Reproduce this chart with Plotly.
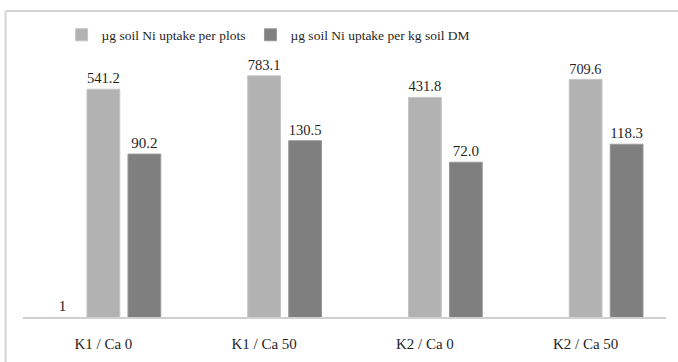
import plotly.graph_objects as go

categories = ["K1 / Ca 0", "K1 / Ca 50", "K2 / Ca 0", "K2 / Ca 50"]
series_aux = [1, None, None, None]
series_plots = [541.2, 783.1, 431.8, 709.6]
series_kg = [90.2, 130.5, 72.0, 118.3]
name_plots = "µg soil Ni uptake per plots"
name_kg = "µg soil Ni uptake per kg soil DM"

FONT = "Liberation Serif"
TXT = "#1f1f1f"

fig = go.Figure()
fig.add_trace(go.Bar(
    x=categories, y=series_aux, name="", showlegend=False,
    marker=dict(color="#c9c9c9"),
    text=["1", "", "", ""], textposition="outside",
    textfont=dict(family=FONT, size=15, color=TXT),
    cliponaxis=False,
))
fig.add_trace(go.Bar(
    x=categories, y=series_plots, name=name_plots,
    marker=dict(color="#b2b2b2", line=dict(color="#c4c4c4", width=1)),
    texttemplate="%{y:.1f}", textposition="outside",
    textfont=dict(family=FONT, size=15, color=TXT),
    cliponaxis=False,
))
fig.add_trace(go.Bar(
    x=categories, y=series_kg, name=name_kg,
    marker=dict(color="#7f7f7f", line=dict(color="#999999", width=1)),
    texttemplate="%{y:.1f}", textposition="outside",
    textfont=dict(family=FONT, size=15, color=TXT),
    cliponaxis=False,
))

fig.update_layout(
    width=678, height=362,
    margin=dict(l=23, r=12, t=67, b=45, autoexpand=False),
    paper_bgcolor="white", plot_bgcolor="white",
    barmode="group", bargap=0.235, bargroupgap=0.2,
    font=dict(family=FONT, color=TXT),
    showlegend=True,
    legend=dict(
        orientation="h", x=0.06, xanchor="left", y=1.128, yanchor="middle",
        font=dict(family=FONT, size=13.5, color=TXT),
        itemclick=False, bgcolor="rgba(0,0,0,0)",
    ),
    xaxis=dict(
        showline=True, linecolor="#d0d0d0", linewidth=2,
        ticks="", showgrid=False, automargin=False,
        ticklabelstandoff=12,
        tickfont=dict(family=FONT, size=15, color=TXT),
    ),
    yaxis=dict(type="log", range=[0, 3], visible=False, showgrid=False,
               automargin=False),
    shapes=[
        dict(type="line", xref="paper", yref="paper",
             x0=-0.0272, x1=1.0187, y0=1.224, y1=1.224,
             line=dict(color="#d4d4d4", width=2), layer="above"),
        dict(type="line", xref="paper", yref="paper",
             x0=-0.0272, x1=-0.0272, y0=-0.18, y1=1.224,
             line=dict(color="#d4d4d4", width=2), layer="above"),
    ],
)

fig.write_html(
    "out.html",
    config={"displayModeBar": False, "staticPlot": True},
    post_script="document.body.style.margin='0';document.body.style.overflow='hidden';",
)
